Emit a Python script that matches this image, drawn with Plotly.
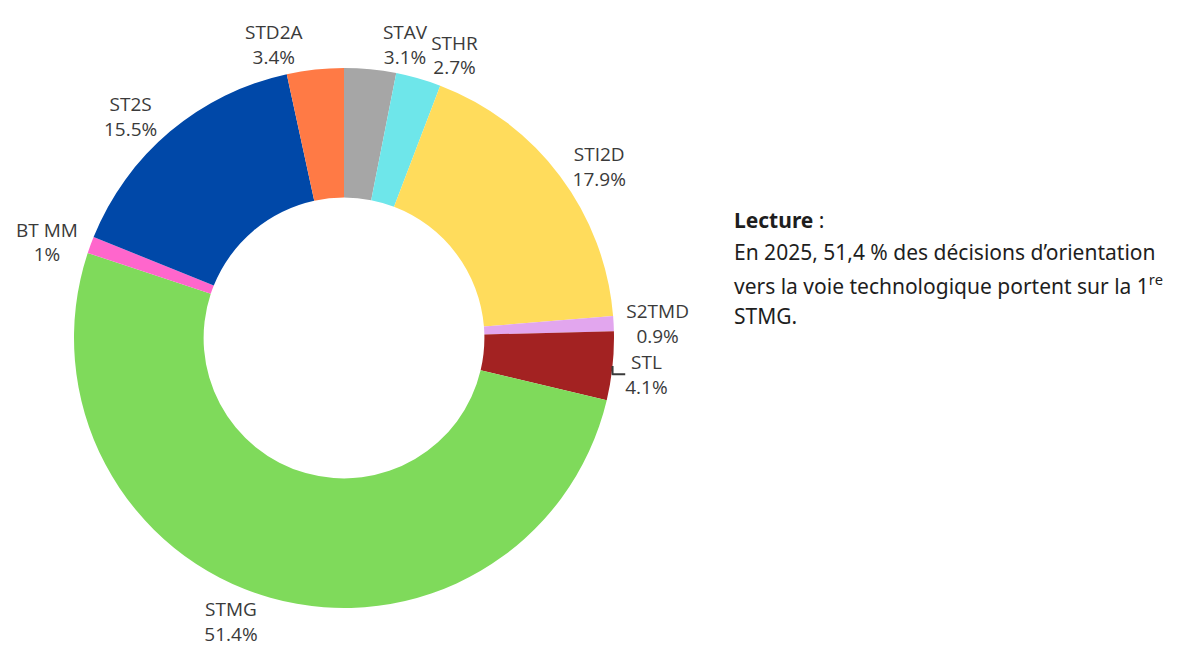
import plotly.graph_objects as go

# filières, ordre horaire depuis midi
filieres = ["STAV", "STHR", "STI2D", "S2TMD", "STL", "STMG", "BT MM", "ST2S", "STD2A"]
parts = [3.1, 2.7, 17.9, 0.9, 4.1, 51.4, 1.0, 15.5, 3.4]
couleurs = ["#a6a6a6", "#6ee6ea", "#ffdc5c", "#e2a6ee", "#a32222",
            "#7fda5b", "#ff66cc", "#0048a8", "#ff7a45"]

lecture = [
    "<b>Lecture</b> :",
    "En 2025, 51,4 % des décisions d’orientation",
    "vers la voie technologique portent sur la 1<sup>re</sup>",
    "STMG.",
]

textes = [f"{v:g}%" for v in parts]

# étiquettes réparties sur deux traces pour éviter que plotly ne les décale
seules = ["STAV"]
modele = "%{label}<br>%{text}"
tpl_a = ["" if f in seules else modele for f in filieres]
tpl_b = [modele if f in seules else "" for f in filieres]

W, H = 1177, 655
OFF = 8  # marge du body de la page
domaine = dict(x=[(74 - OFF) / W, (614 - OFF) / W],
               y=[1 - (608 - OFF) / H, 1 - (68 - OFF) / H])
police = dict(family="Open Sans", size=19, color="#3a3a3a")

fig = go.Figure()

fig.add_trace(go.Pie(
    labels=filieres, values=parts, text=textes,
    texttemplate=tpl_a, textposition="outside", textfont=police,
    marker=dict(colors=couleurs, line=dict(width=0)),
    hole=0.52, sort=False, direction="clockwise", rotation=0,
    showlegend=False, automargin=False, hoverinfo="label+percent",
    domain=domaine,
))

fig.add_trace(go.Pie(
    labels=filieres, values=parts, text=textes,
    texttemplate=tpl_b, textposition="outside", textfont=police,
    marker=dict(colors=["rgba(0,0,0,0)"] * len(parts), line=dict(width=0)),
    hole=0.52, sort=False, direction="clockwise", rotation=0,
    showlegend=False, automargin=False, hoverinfo="skip",
    domain=domaine,
))

# texte de lecture, une ligne par annotation
for i, ligne in enumerate(lecture):
    fig.add_annotation(
        x=(732 - OFF) / W, y=1 - (220 - OFF + 32 * i) / H,
        xref="paper", yref="paper",
        xanchor="left", yanchor="middle", align="left", showarrow=False,
        text=ligne,
        font=dict(family="Noto Sans", size=21, color="#1e1e1e"),
    )

fig.update_layout(
    width=W, height=H,
    margin=dict(l=0, r=0, t=0, b=0, autoexpand=False),
    paper_bgcolor="white",
    plot_bgcolor="white",
)

fig.write_html("out.html")
